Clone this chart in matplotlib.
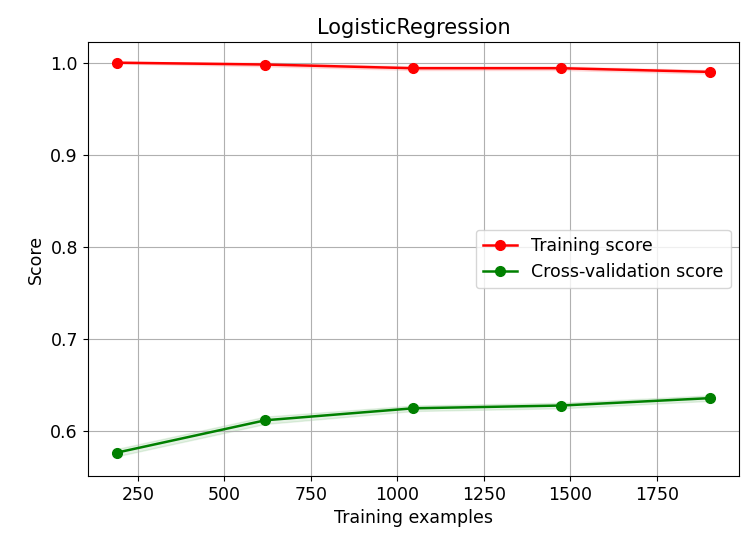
import matplotlib
matplotlib.use("Agg")
import matplotlib.pyplot as plt
import numpy as np

# learning curve results for the logistic regression model
train_sizes = [190, 618, 1046, 1474, 1903]
train_scores_mean = [1.000, 0.998, 0.994, 0.994, 0.990]
train_scores_std = [0.001, 0.002, 0.002, 0.002, 0.002]
test_scores_mean = [0.577, 0.612, 0.625, 0.628, 0.636]
test_scores_std = [0.004, 0.004, 0.003, 0.003, 0.003]

plt.rcParams['font.size'] = 12.5

fig = plt.figure(figsize=(7.43, 5.39), dpi=100)
ax = fig.add_axes([0.118, 0.117, 0.877, 0.805])
ax.set_title("LogisticRegression")
ax.set_xlabel("Training examples")
ax.set_ylabel("Score")
ax.grid()

tr_m = np.array(train_scores_mean)
tr_s = np.array(train_scores_std)
te_m = np.array(test_scores_mean)
te_s = np.array(test_scores_std)
ax.fill_between(train_sizes, tr_m - tr_s, tr_m + tr_s, alpha=0.1, color="r")
ax.fill_between(train_sizes, te_m - te_s, te_m + te_s, alpha=0.1, color="g")
ax.plot(train_sizes, train_scores_mean, 'o-', color="r", label="Training score",
        markersize=7, linewidth=1.8)
ax.plot(train_sizes, test_scores_mean, 'o-', color="g", label="Cross-validation score",
        markersize=7, linewidth=1.8)
ax.legend(loc="center right")

fig.savefig("out.png", dpi=100)
